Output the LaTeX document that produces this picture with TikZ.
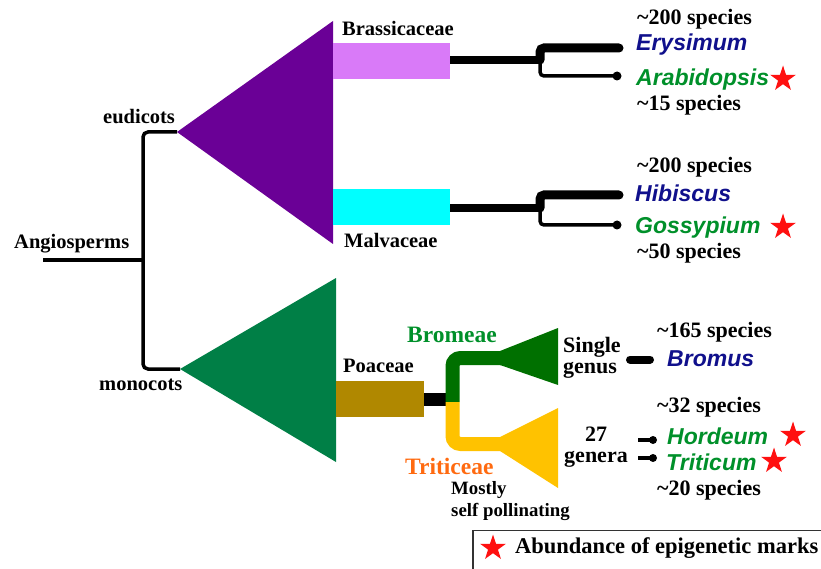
\documentclass[tikz,border=0pt]{standalone}
\usepackage{fontspec}
\setmainfont{Liberation Serif}
\newfontfamily\gfont{Liberation Sans}
\usetikzlibrary{shapes.geometric}
\definecolor{eupurple}{HTML}{6A0096}
\definecolor{brasscol}{HTML}{D97AF8}
\definecolor{malvcol}{HTML}{00FFFF}
\definecolor{monogreen}{HTML}{007F46}
\definecolor{poacol}{HTML}{B08800}
\definecolor{bromgreen}{HTML}{007000}
\definecolor{tritcol}{HTML}{FFC200}
\definecolor{navytxt}{HTML}{10108C}
\definecolor{greentxt}{HTML}{00902A}
\definecolor{orangetxt}{HTML}{FF6A10}
\definecolor{redstar}{HTML}{FF1010}
\tikzset{
  lab/.style={inner sep=0pt, anchor=west, font=\fontsize{20.5}{24}\selectfont\bfseries},
  sp/.style={inner sep=0pt, anchor=west, font=\fontsize{22}{24}\selectfont\bfseries},
  twoline/.style={inner sep=0pt, font=\fontsize{22}{21}\selectfont\bfseries},
  tribe/.style={inner sep=0pt, anchor=west, font=\fontsize{23.5}{26}\selectfont\bfseries},
  small/.style={inner sep=0pt, anchor=west, align=left, font=\fontsize{18.8}{22}\selectfont\bfseries},
  gen/.style={inner sep=0pt, anchor=west, font=\gfont\fontsize{23}{26}\selectfont\bfseries\itshape},
  tree/.style={line width=3.5pt, black, rounded corners=5pt},
  redmark/.style={star, star points=5, star point ratio=2.6, fill=redstar, inner sep=0pt, minimum size=27pt},
}
\begin{document}
\begin{tikzpicture}[x=1pt,y=-1pt]
\useasboundingbox (0,0) rectangle (821,569);
\clip (0,0) rectangle (821,569);
% coordinates of the tree
\coordinate (angL) at (43,260);
\coordinate (angR) at (143,260);
\coordinate (eudApex) at (177,132);
\coordinate (monoApex) at (180,369);
\coordinate (brassR) at (450,60);
\coordinate (malvR) at (450,208);
\coordinate (poaR) at (424,399);
% main tree
\draw[tree] (angL) -- (angR);
\draw[tree] (eudApex) -- (143,132) -- (143,369) -- (monoApex);
% eudicot triangle
\fill[eupurple] (eudApex) -- (333,21) -- (333,244) -- cycle;
\fill[brasscol] (333,43) rectangle (brassR |- 0,79);
\fill[malvcol] (333,189) rectangle (malvR |- 0,225);
% monocot triangle
\fill[monogreen] (monoApex) -- (336,278) -- (336,462) -- cycle;
\fill[poacol] (336,381) rectangle (poaR |- 0,417);
% Brassicaceae connectors
\coordinate (brassJ) at (540,60);
\coordinate (eryEnd) at (619,48);
\coordinate (araEnd) at (617,76);
\draw[line width=8pt] (brassR) -- ([xshift=1pt]brassJ);
\draw[line width=9pt, rounded corners=4pt, line cap=round] (brassJ) |- (eryEnd);
\draw[line width=3.5pt, rounded corners=4pt] (brassJ) |- (araEnd);
\fill (araEnd) circle (4.5pt);
% Malvaceae connectors
\coordinate (malvJ) at (540,208);
\coordinate (hibEnd) at (619,195);
\coordinate (gosEnd) at (617,225);
\draw[line width=8pt] (malvR) -- ([xshift=1pt]malvJ);
\draw[line width=9pt, rounded corners=4pt, line cap=round] (malvJ) |- (hibEnd);
\draw[line width=3.5pt, rounded corners=4pt] (malvJ) |- (gosEnd);
\fill (gosEnd) circle (4.5pt);
% Poaceae to tribes
\draw[line width=13pt] (poaR) -- (447,399);
\draw[bromgreen, line width=14pt, rounded corners=8pt] (452.5,402) -- (452.5,358) -- (501,358);
\fill[bromgreen] (500,351) -- (558,328) -- (558,385) -- (500,365) -- cycle;
\draw[tritcol, line width=14pt, rounded corners=8pt] (452.5,402) -- (452.5,444) -- (501,444);
\fill[tritcol] (500,437) -- (558,408) -- (558,488) -- (500,451) -- cycle;
% genus connectors
\coordinate (bromA) at (630,359.5);
\coordinate (bromB) at (650,359.5);
\draw[line width=8pt, line cap=round] (bromA) -- (bromB);
\coordinate (horA) at (638,440);
\coordinate (horB) at (653,440);
\draw[line width=3.5pt] (horA) -- (horB);
\fill (horB) circle (4pt);
\coordinate (triA) at (638,458);
\coordinate (triB) at (653,458);
\draw[line width=3.5pt] (triA) -- (triB);
\fill (triB) circle (4pt);
% labels
\node[lab] (tBrass) at (342,28) {Brassicaceae};
\node[lab] (tMalv) at (344,240) {Malvaceae};
\node[lab] (tEud) at (103,117) {eudicots};
\node[lab] (tAng) at (14,244) {Angiosperms};
\node[lab] (tMono) at (99,385) {monocots};
\node[lab] (tPoa) at (343,366) {Poaceae};
\node[tribe, text=greentxt] (tBromeae) at (407,335) {Bromeae};
\node[tribe, text=orangetxt] (tTrit) at (405,466) {Triticeae};
\node[small] (tMostly) at (451,501) {Mostly\\self pollinating};
\node[twoline, anchor=west, align=left] (tSingle) at (563,357.5) {Single\\genus};
\node[twoline, anchor=center, align=center] (tGenera) at (596,447.5) {27\\genera};
% species / genera
\node[sp] (s1) at (637,19) {\textasciitilde200 species};
\node[gen, text=navytxt] (gEry) at (636,45) {Erysimum};
\node[gen, text=greentxt] (gAra) at (636,80) {Arabidopsis};
\node[redmark] (stAra) at (783,79) {};
\node[sp] (s2) at (637,105) {\textasciitilde15 species};
\node[sp] (s3) at (637,167) {\textasciitilde200 species};
\node[gen, text=navytxt] (gHib) at (635,193) {Hibiscus};
\node[gen, text=greentxt] (gGos) at (635,228) {Gossypium};
\node[redmark] (stGos) at (783,227) {};
\node[sp] (s4) at (637,253) {\textasciitilde50 species};
\node[sp] (s5) at (657,332) {\textasciitilde165 species};
\node[gen, text=navytxt] (gBrom) at (667,359) {Bromus};
\node[sp] (s6) at (657,407) {\textasciitilde32 species};
\node[gen, text=greentxt] (gHor) at (667,436) {Hordeum};
\node[redmark] (stHor) at (793,435) {};
\node[gen, text=greentxt] (gTri) at (666,462) {Triticum};
\node[redmark] (stTri) at (774,461) {};
\node[sp] (s7) at (657,490) {\textasciitilde20 species};
% legend
\draw[line width=1.2pt, black!80] (473,575) -- (473,530.5) -- (830,530.5);
\node[redmark] (stLeg) at (493,548) {};
\node[sp, font=\fontsize{22.5}{26}\selectfont\bfseries] (tLeg) at (515,548) {Abundance of epigenetic marks};
\end{tikzpicture}
\end{document}
